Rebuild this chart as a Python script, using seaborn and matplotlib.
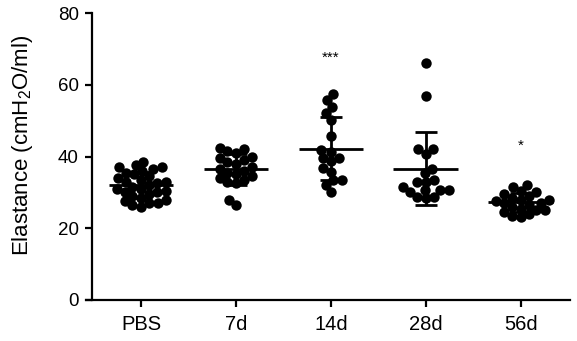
import numpy as np
import pandas as pd
import matplotlib
matplotlib.use("Agg")
import matplotlib.pyplot as plt
import seaborn as sns

# values (cmH2O/ml)
groups = ["PBS", "7d", "14d", "28d", "56d"]
pbs = [38.5, 37.5, 37, 37, 36.5, 36, 35.5, 35, 34.5, 34, 33.5, 33, 33, 32.5, 32,
       31.5, 31, 31, 30.5, 30, 30, 29.5, 29, 28.5, 28, 27.5, 27, 27, 26.5, 26]
d7 = [42.5, 42, 41.5, 41, 40, 39.5, 39, 38.5, 38, 37, 36.5, 36, 35.5, 35, 34.5,
      34, 33.5, 33, 32.5, 28, 26.5]
d14 = [57.4, 55.7, 53.8, 52.2, 50.3, 45.8, 41.8, 41.3, 39.5, 39.5, 38.8, 36.9,
       35.7, 33.4, 33.4, 32, 30]
d28 = [66, 56.8, 42, 42, 40.7, 36.4, 35.3, 33.4, 33, 33, 31.6, 30.8, 30.6, 30.6,
       30.2, 28.8, 28.8, 28.3]
d56 = [32, 31.5, 30.5, 30, 29.5, 29, 28.5, 28, 28, 27.5, 27, 27, 26.5, 26, 25.5,
       25, 25, 24.5, 24, 23.5, 23]
stars = {"14d": ("***", 67.5), "56d": ("*", 43)}

df = pd.DataFrame({
    "group": np.repeat(groups, [len(pbs), len(d7), len(d14), len(d28), len(d56)]),
    "elastance": pbs + d7 + d14 + d28 + d56,
})

plt.rcParams["font.family"] = ["Liberation Sans", "DejaVu Sans"]
plt.rcParams["mathtext.default"] = "regular"

fig = plt.figure(figsize=(5.77, 3.41), dpi=100)
ax = fig.add_axes([86 / 577, 41 / 341, 484 / 577, 287 / 341])

ax.set_xlim(-0.58, 4.52)
ax.set_ylim(0, 80)

# lay the swarm out with smaller markers so the dots overlap like in Prism
sns.swarmplot(data=df, x="group", y="elastance", order=groups, color="black",
              size=6, ax=ax)
ax.set_xlim(-0.58, 4.52)
fig.canvas.draw()
for coll in ax.collections:
    if "draw" in coll.__dict__:
        del coll.draw
    coll.set_sizes([7.5 ** 2])

# mean line and SD whiskers
stats = df.groupby("group")["elastance"].agg(["mean", "std"]).reindex(groups)
pos = np.arange(len(groups))
ax.hlines(stats["mean"], pos - 0.34, pos + 0.34, color="black", lw=2, zorder=3)
ax.errorbar(pos, stats["mean"], yerr=stats["std"], fmt="none", ecolor="black",
            elinewidth=2, capsize=8, capthick=2, zorder=3)

for g, (txt, y) in stars.items():
    ax.text(groups.index(g), y, txt, ha="center", va="center", fontsize=11)

ax.set_xlim(-0.58, 4.52)
ax.set_ylim(0, 80)
ax.set_yticks([0, 20, 40, 60, 80])
ax.spines["top"].set_visible(False)
ax.spines["right"].set_visible(False)
ax.spines["left"].set_position(("data", -0.516))
for s in ["left", "bottom"]:
    ax.spines[s].set_linewidth(1.6)
ax.tick_params(axis="both", width=1.6, length=5)
ax.tick_params(axis="y", labelsize=13.5, pad=4.5)
ax.tick_params(axis="x", labelsize=14.5, pad=6)
ax.set_xlabel("")
ax.set_ylabel("Elastance (cmH$_2$O/ml)", fontsize=16)
ax.yaxis.set_label_coords(-0.105, 0.538)

fig.savefig("out.png", dpi=100)
